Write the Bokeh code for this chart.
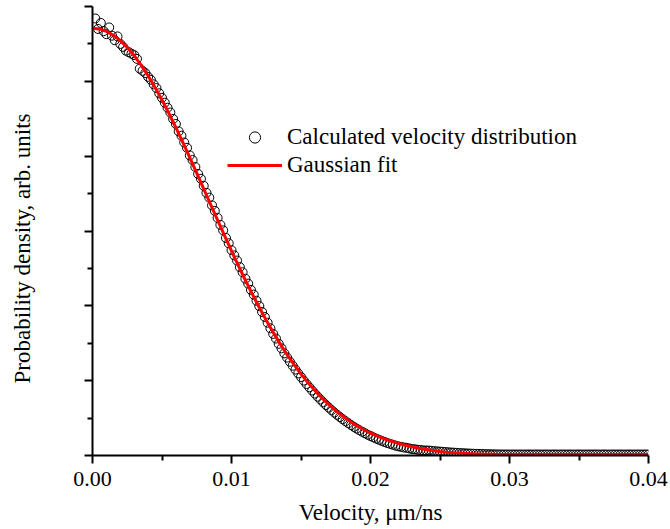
import math
from bokeh.plotting import figure
from bokeh.models import (Range1d, FixedTicker, PrintfTickFormatter, Legend,
                          LegendItem, Title, LinearAxis, ColumnDataSource)
from bokeh.embed import file_html
from bokeh.resources import INLINE

# ---------------- data ----------------
# Calculated velocity distribution: velocity grid (um/ns) and density (arb. units)
calc_step = 0.0002
calc_velocity = [round(calc_step * i, 4) for i in range(1, 201)]
calc_density = [
    5.840, 5.700, 5.780, 5.670, 5.630, 5.720, 5.610, 5.550, 5.600, 5.500,
    5.460, 5.410, 5.390, 5.370, 5.350, 5.300, 5.170, 5.140, 5.110, 5.060,
    5.020, 4.960, 4.910, 4.840, 4.780, 4.715, 4.647, 4.583, 4.497, 4.430,
    4.332, 4.273, 4.183, 4.112, 4.010, 3.948, 3.855, 3.762, 3.698, 3.604,
    3.510, 3.446, 3.342, 3.269, 3.175, 3.082, 3.009, 2.907, 2.836, 2.744,
    2.674, 2.605, 2.517, 2.449, 2.362, 2.297, 2.213, 2.150, 2.068, 1.997,
    1.918, 1.850, 1.774, 1.699, 1.625, 1.563, 1.492, 1.432, 1.365, 1.308,
    1.253, 1.200, 1.148, 1.097, 1.049, 1.001, 0.955, 0.911, 0.868, 0.827,
    0.786, 0.748, 0.710, 0.674, 0.640, 0.606, 0.574, 0.544, 0.514, 0.485,
    0.458, 0.432, 0.407, 0.383, 0.360, 0.338, 0.317, 0.297, 0.278, 0.260,
    0.243, 0.226, 0.211, 0.196, 0.182, 0.168, 0.156, 0.144, 0.132, 0.122,
    0.116, 0.107, 0.102, 0.094, 0.086, 0.083, 0.076, 0.074, 0.068, 0.067,
    0.066, 0.062, 0.058, 0.055, 0.052, 0.049, 0.046, 0.043, 0.040, 0.038,
    0.035, 0.033, 0.031, 0.029, 0.027, 0.025, 0.024, 0.022, 0.021, 0.020,
    0.019, 0.018, 0.017, 0.016, 0.015, 0.014, 0.014, 0.013, 0.014, 0.013,
    0.014, 0.013, 0.013, 0.014, 0.013, 0.013, 0.014, 0.013, 0.013, 0.014,
    0.013, 0.013, 0.014, 0.013, 0.013, 0.014, 0.013, 0.013, 0.014, 0.013,
    0.013, 0.014, 0.013, 0.013, 0.014, 0.013, 0.013, 0.014, 0.013, 0.013,
    0.014, 0.013, 0.013, 0.014, 0.013, 0.013, 0.014, 0.013, 0.013, 0.014,
    0.013, 0.013, 0.014, 0.013, 0.013, 0.014, 0.013, 0.013, 0.014, 0.013,
]

# Gaussian fit curve, read at 0.0005 um/ns steps
fit_step = 0.0005
fit_velocity = [round(fit_step * i, 4) for i in range(0, 81)]
fit_density = [
    5.710, 5.700, 5.668, 5.616, 5.544, 5.453, 5.344, 5.217, 5.075, 4.919,
    4.750, 4.570, 4.380, 4.183, 3.980, 3.773, 3.564, 3.354, 3.145, 2.938,
    2.734, 2.535, 2.342, 2.156, 1.977, 1.807, 1.645, 1.492, 1.348, 1.214,
    1.089, 0.973, 0.867, 0.769, 0.680, 0.599, 0.525, 0.459, 0.400, 0.347,
    0.300, 0.259, 0.222, 0.190, 0.162, 0.137, 0.116, 0.097, 0.080, 0.066,
    0.054, 0.045, 0.038, 0.032, 0.027, 0.023, 0.020, 0.018, 0.016, 0.015,
    0.014, 0.013, 0.013, 0.012, 0.012, 0.012, 0.012, 0.012, 0.012, 0.012,
    0.012, 0.012, 0.012, 0.012, 0.012, 0.012, 0.012, 0.012, 0.012, 0.012,
    0.012,
]

x_major_ticks = [0.0, 0.01, 0.02, 0.03, 0.04]
x_minor_ticks = [0.005, 0.015, 0.025, 0.035]
y_major_ticks = [0, 1, 2, 3, 4, 5, 6]
y_minor_ticks = [0.5, 1.5, 2.5, 3.5, 4.5, 5.5]

x_title = "Velocity, \u03bcm/ns"
y_title = "Probability density, arb. units"
legend_labels = ["Calculated velocity distribution", "Gaussian fit"]

FONT = "Liberation Serif"

# ---------------- figure ----------------
p = figure(width=670, height=529, output_backend="svg", toolbar_location=None,
           x_range=Range1d(0, 0.04), y_range=Range1d(0, 6),
           min_border_left=92, min_border_right=22, min_border_top=6,
           min_border_bottom=74)
p.outline_line_color = None
p.grid.visible = False
p.background_fill_color = "white"
p.border_fill_color = "white"

calc_src = ColumnDataSource(dict(v=calc_velocity, d=calc_density))
fit_src = ColumnDataSource(dict(v=fit_velocity, d=fit_density))

r_circ = p.scatter("v", "d", source=calc_src, marker="circle", size=9,
                   fill_color=None, line_color="black", line_width=1)
r_line = p.line("v", "d", source=fit_src, line_color="#ff0000", line_width=3)

# x axis
xa = p.xaxis[0]
xa.ticker = FixedTicker(ticks=x_major_ticks, minor_ticks=x_minor_ticks)
xa.formatter = PrintfTickFormatter(format="%.2f")
xa.axis_label = x_title
xa.axis_label_text_font = FONT
xa.axis_label_text_font_style = "normal"
xa.axis_label_text_font_size = "23px"
xa.axis_label_text_color = "black"
xa.axis_label_standoff = 11
xa.major_label_text_font = FONT
xa.major_label_text_font_size = "22px"
xa.major_label_text_color = "black"
xa.major_label_standoff = 8

# y axis (no tick labels)
ya = p.yaxis[0]
ya.ticker = FixedTicker(ticks=y_major_ticks, minor_ticks=y_minor_ticks)
ya.major_label_text_color = None
ya.major_label_standoff = 0

for ax in (xa, ya):
    ax.axis_line_width = 2
    ax.axis_line_color = "black"
    ax.major_tick_line_width = 2
    ax.major_tick_line_color = "black"
    ax.minor_tick_line_width = 2
    ax.minor_tick_line_color = "black"
    ax.major_tick_in = 0
    ax.major_tick_out = 8
    ax.minor_tick_in = 0
    ax.minor_tick_out = 5

# invisible spacer axis that pushes the y title outwards
spacer = LinearAxis(ticker=FixedTicker(ticks=[3]), axis_line_color=None,
                    major_tick_line_color=None, minor_tick_line_color=None,
                    major_label_text_color=None, major_tick_in=0,
                    major_tick_out=50, minor_tick_in=0, minor_tick_out=0,
                    major_label_standoff=0, major_label_text_font_size="1px")
p.add_layout(spacer, "left")

# y title as a side title, shifted along the axis
ytitle = Title(text=y_title, align="left", offset=72, standoff=0,
               text_font=FONT, text_font_style="normal",
               text_font_size="23px", text_color="black")
p.add_layout(ytitle, "left")

legend = Legend(items=[LegendItem(label=legend_labels[0], renderers=[r_circ]),
                       LegendItem(label=legend_labels[1], renderers=[r_line])],
                location=(135, 276), glyph_width=55, glyph_height=28,
                label_height=28, label_standoff=5, padding=0, margin=0,
                spacing=0, border_line_color=None, background_fill_alpha=0,
                label_text_font=FONT, label_text_font_size="23px",
                label_text_color="black")
p.add_layout(legend)

open("out.html", "w").write(file_html(p, INLINE))
